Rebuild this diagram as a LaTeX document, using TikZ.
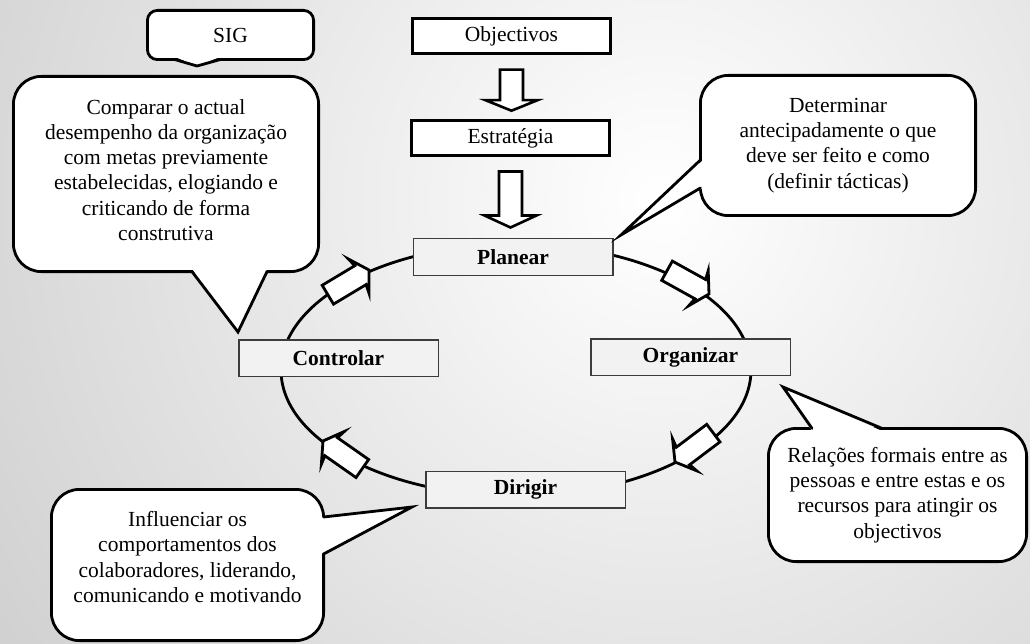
\documentclass[tikz,border=0pt]{standalone}
\usepackage{fontspec}
\setmainfont{Liberation Serif}
\usepackage{xcolor}
\definecolor{stagefill}{HTML}{F2F2F2}
\definecolor{stageline}{HTML}{3C3C3C}
\definecolor{slidegray}{HTML}{CFCFCF}
\usepackage{tikz}
\usetikzlibrary{positioning, calc, backgrounds}
\pgfdeclarelayer{background}
\pgfsetlayers{background,main}
% hollow arrow on the management cycle, tip at #1, pointing at angle #2
\newcommand{\cyclearrow}[2]{%
  \draw[turnarrow, shift={(#1)}, rotate=#2] (0,0) -- (-12,20) -- (-10,11) -- (-48,11) -- (-48,-11) -- (-10,-11) -- (-12,-20) -- cycle;}

\begin{document}
\begin{tikzpicture}[x=1pt, y=1pt]
    \tikzstyle{plainbox} = [draw, line width=2.8pt, fill=white, minimum width=198pt, minimum height=35pt, font=\fontsize{21.5}{25}\selectfont]
    \tikzstyle{stagebox} = [draw=stageline, line width=1.5pt, fill=stagefill, minimum width=199.5pt, minimum height=36.5pt, font=\fontsize{21.5}{25}\selectfont\bfseries]
    \tikzstyle{balloon} = [draw, line width=2.8pt, fill=white, rounded corners=28pt, align=center, font=\fontsize{21.5}{25.2}\selectfont]
    \tikzstyle{balloonline} = [line width=2.8pt, line cap=round, line join=miter]
    \tikzstyle{hollow} = [draw, line width=2.6pt, fill=white, line join=miter]
    \tikzstyle{turnarrow} = [draw, line width=2.8pt, fill=white, line join=miter]
    \tikzstyle{cycleline} = [line width=2.8pt]

    \useasboundingbox (0,0) rectangle (1030,-644);

    % the four stages
    \coordinate (hub) at (516,-370);
    \node [stagebox] (plan) at (513,-257) {Planear};
    \node [stagebox] (ctrl) at (338.5,-358) {Controlar};
    \node [stagebox] (org) at (690.5,-357) {Organizar};
    \node [stagebox] (dir) at (525.5,-489.5) {Dirigir};

    % inputs of the planning stage
    \node [plainbox, anchor=south] (strat) at ([xshift=-2.5pt,yshift=81pt]plan.north) {Estratégia};
    \node [plainbox, anchor=south] (obj) at ([xshift=1pt,yshift=64pt]strat.north) {Objectivos};
    \draw[hollow] ([xshift=-11.5pt,yshift=-14.5pt]obj.south) -- ++(23,0) -- ++(0,-30.5) -- ++(14.5,0) -- ++(-26,-10.5) -- ++(-26,10.5) -- ++(14.5,0) -- cycle;
    \draw[hollow] ([xshift=-11.5pt,yshift=-14.5pt]strat.south) -- ++(23,0) -- ++(0,-44) -- ++(14.5,0) -- ++(-26,-12) -- ++(-26,12) -- ++(14.5,0) -- cycle;

    % cycle direction
    \cyclearrow{369,-270}{31}
    \cyclearrow{709,-294}{-29}
    \cyclearrow{675,-462}{217}
    \cyclearrow{323,-441}{145}

    % balloons
    \node [balloon, rounded corners=10pt, minimum width=166.2pt, minimum height=49.2pt] (sig) at (230.5,-35) {SIG};
    \node [balloon, minimum width=305.2pt, minimum height=195.2pt] (cmp) at (166,-174) {};
    \node [align=center, font=\fontsize{21.5}{25.2}\selectfont] (cmptext) at ([yshift=4pt]cmp.center) {Comparar o actual\\desempenho da organização\\com metas previamente\\estabelecidas, elogiando e\\criticando de forma\\construtiva};
    \node [balloon, minimum width=275.2pt, minimum height=140.2pt] (det) at (838,-145.5) {Determinar\\antecipadamente o que\\deve ser feito e como\\(definir tácticas)};
    \node [balloon, minimum width=258.2pt, minimum height=133.2pt] (rel) at (897.5,-495) {Relações formais entre as\\pessoas e entre estas e os\\recursos para atingir os\\objectivos};
    \node [balloon, minimum width=272.2pt, minimum height=151.2pt] (inf) at (187.5,-565) {};
    \node [align=center, font=\fontsize{21.5}{25.2}\selectfont] (inftext) at ([yshift=8pt]inf.center) {Influenciar os\\comportamentos dos\\colaboradores, liderando,\\comunicando e motivando};

    % balloon tails
    \coordinate (sigtip) at (197,-66);
    \fill[white] ([xshift=-55.5pt,yshift=4pt]sig.south) -- (sigtip) -- ([xshift=-10.5pt,yshift=4pt]sig.south) -- cycle;
    \draw[balloonline] ([xshift=-55.5pt,yshift=1.4pt]sig.south) -- (sigtip) -- ([xshift=-10.5pt,yshift=1.4pt]sig.south);

    \coordinate (cmptip) at (238,-332);
    \fill[white] ([xshift=26pt,yshift=4pt]cmp.south) -- (cmptip) -- ([xshift=101pt,yshift=4pt]cmp.south) -- cycle;
    \draw[balloonline] ([xshift=26pt,yshift=1.4pt]cmp.south) -- (cmptip) -- ([xshift=101pt,yshift=1.4pt]cmp.south);

    \coordinate (dettip) at (621,-235);
    \fill[white] ([xshift=4pt,yshift=-14.5pt]det.west) -- (dettip) -- ([xshift=4pt,yshift=-42.5pt]det.west) -- cycle;
    \draw[balloonline] ([xshift=1.4pt,yshift=-14.5pt]det.west) -- (dettip) -- ([xshift=1.4pt,yshift=-42.5pt]det.west);

    \coordinate (reltip) at (783,-387);
    \fill[white] ([xshift=-85.5pt,yshift=-4pt]rel.north) -- (reltip) -- ([xshift=-15.5pt,yshift=-4pt]rel.north) -- cycle;
    \draw[balloonline] ([xshift=-85.5pt,yshift=-1.4pt]rel.north) -- (reltip) -- ([xshift=-15.5pt,yshift=-1.4pt]rel.north);

    \coordinate (inftip) at (412,-507);
    \fill[white] ([xshift=-4pt,yshift=48pt]inf.east) -- (inftip) -- ([xshift=-4pt,yshift=11pt]inf.east) -- cycle;
    \draw[balloonline] ([xshift=-1.4pt,yshift=48pt]inf.east) -- (inftip) -- ([xshift=-1.4pt,yshift=11pt]inf.east);

    \begin{pgfonlayer}{background}
        \begin{scope}
            \clip (0,0) rectangle (1030,-644);
            \shade[inner color=white, outer color=slidegray] (660,-200) circle (820);
        \end{scope}
        \draw[cycleline] (hub) ellipse [x radius=235, y radius=126];
    \end{pgfonlayer}

\end{tikzpicture}
\end{document}
